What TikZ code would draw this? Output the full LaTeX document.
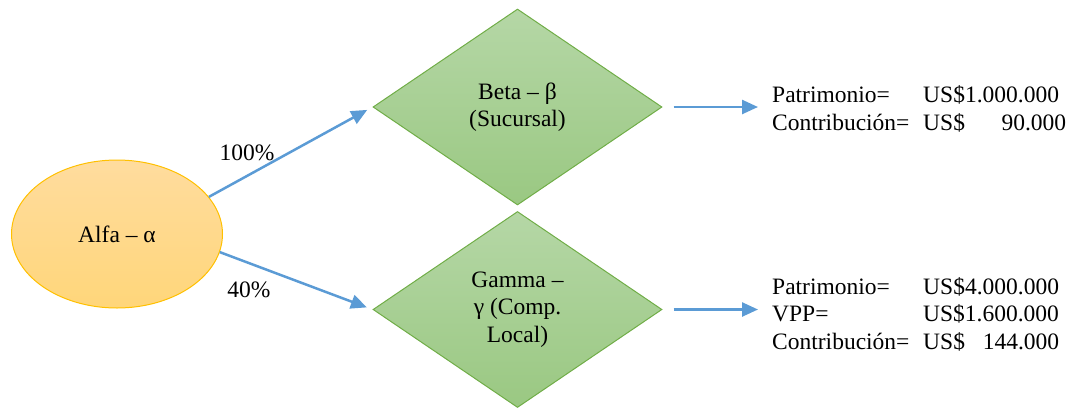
\documentclass[tikz,border=0pt]{standalone}
\usepackage{fontspec}
\setmainfont{Liberation Serif}
\usetikzlibrary{shapes.geometric,arrows.meta}
\definecolor{arrowblue}{RGB}{91,155,213}
\definecolor{goldline}{RGB}{255,192,0}
\definecolor{orangetop}{RGB}{255,220,158}
\definecolor{orangebot}{RGB}{255,214,122}
\definecolor{greenline}{RGB}{112,173,71}
\definecolor{greentop}{RGB}{181,215,166}
\definecolor{greenbot}{RGB}{154,200,130}
\tikzset{
  txt/.style={font=\fontsize{23.5}{27.5}\selectfont},
  entity/.style={ellipse, draw=goldline, line width=1pt, top color=orangetop,
    bottom color=orangebot, minimum width=211pt, minimum height=148pt,
    inner sep=0pt, txt},
  company/.style={diamond, draw=greenline, line width=1pt, top color=greentop,
    bottom color=greenbot, minimum width=289pt, minimum height=196pt,
    inner sep=0pt, align=center, txt},
  figures/.style={anchor=west, inner sep=0pt, txt},
  link/.style={draw=arrowblue, line width=2.5pt,
    -{Triangle[length=16pt,width=14pt]}},
  share/.style={txt, inner sep=0pt}
}
\begin{document}
\begin{tikzpicture}[x=1pt,y=-1pt]
  \useasboundingbox (0,0) rectangle (1073,410);

  % parent and subsidiaries
  \node[entity] (alfa) at (117,234) {Alfa – α};
  \node[company] (beta) at (517.5,107) {Beta – β\\(Sucursal)};
  \node[company] (gamma) at (517.5,309.5) {Gamma –\\γ (Comp.\\Local)};

  % figures for each subsidiary
  \node[figures] (betadata) at (772,111) {%
    \def\arraystretch{1}\begin{tabular}{@{}p{151pt}@{}l@{}}
      Patrimonio= & US\$1.000.000\\
      Contribución= & \makebox[143pt][l]{US\$\hfill 90.000}
    \end{tabular}};
  \node[figures] (gammadata) at (772,316) {%
    \def\arraystretch{1}\begin{tabular}{@{}p{151pt}@{}l@{}}
      Patrimonio= & US\$4.000.000\\
      VPP= & US\$1.600.000\\
      Contribución= & \makebox[136pt][l]{US\$\hfill 144.000}
    \end{tabular}};

  % ownership links
  \draw[link, shorten >=6pt] (alfa.22) -- (beta.west);
  \draw[link, shorten >=6pt] (alfa.-10) -- (gamma.west);
  \node[share] (pct1) at (247,153) {100\%};
  \node[share] (pct2) at (249,290) {40\%};

  % links to the figures
  \draw[link, shorten <=11pt, shorten >=14pt] (beta.east) -- (beta.east -| betadata.west);
  \draw[link, shorten <=11pt, shorten >=14pt] (gamma.east) -- (gamma.east -| gammadata.west);
\end{tikzpicture}
\end{document}
